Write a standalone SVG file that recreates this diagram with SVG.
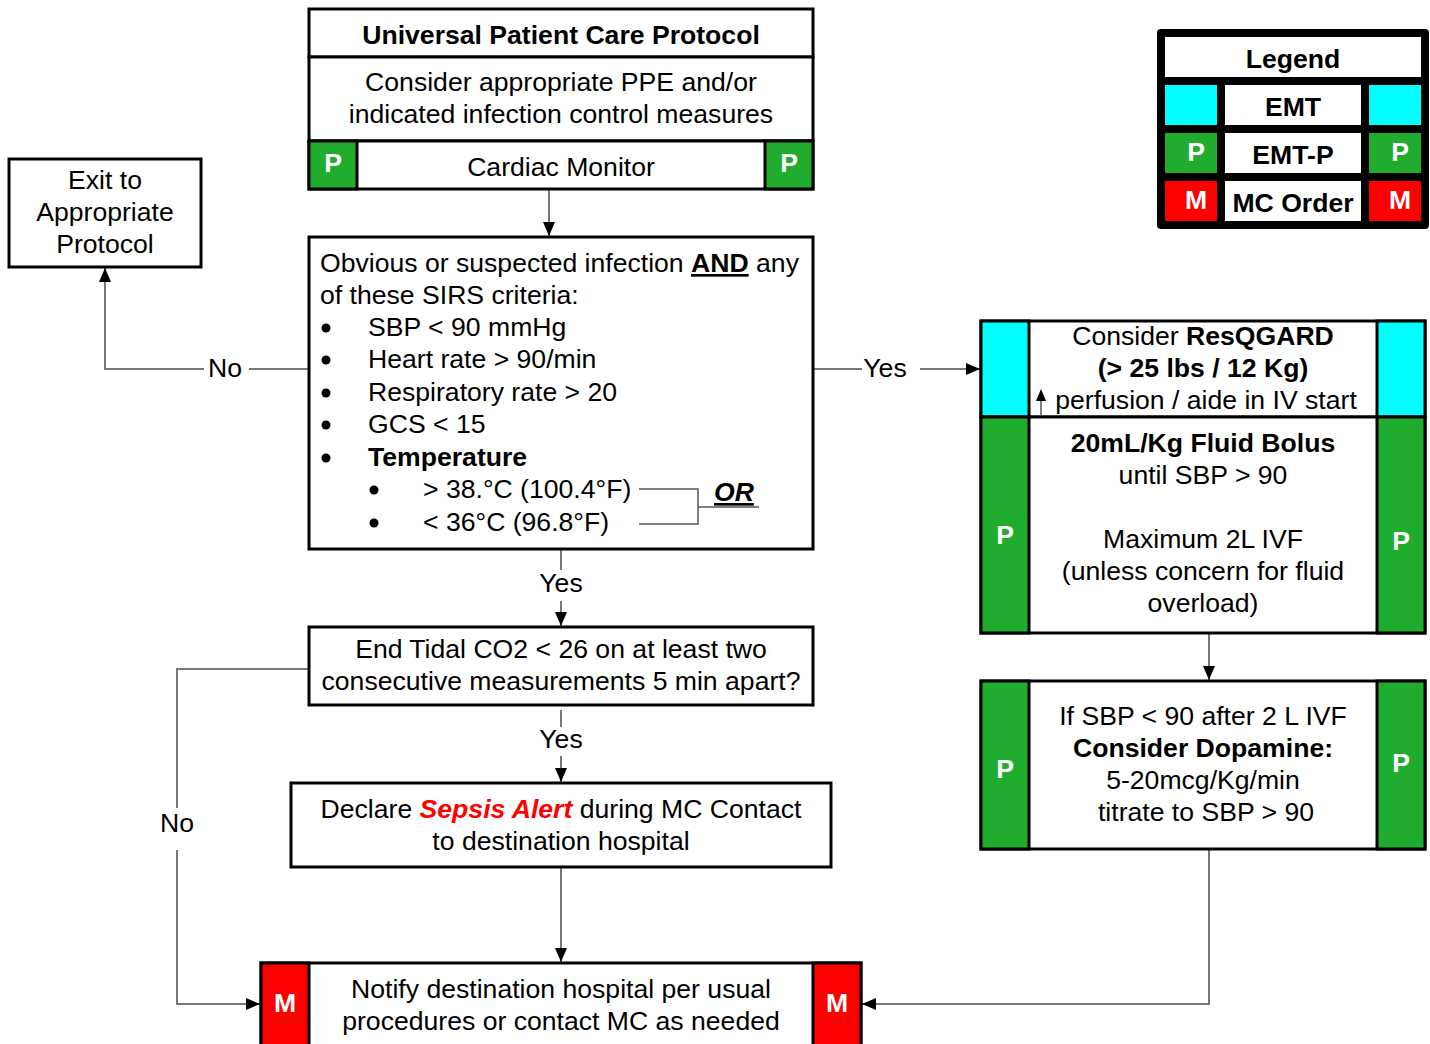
<svg xmlns="http://www.w3.org/2000/svg" width="1430" height="1044" viewBox="0 0 1430 1044">
<defs>
<marker id="ah" markerWidth="14" markerHeight="12" refX="14" refY="6" orient="auto" markerUnits="userSpaceOnUse">
<path d="M0,0 L14,6 L0,12 Z" fill="#000"/>
</marker>
<style>
text{font-family:"Liberation Sans",Arial,sans-serif;font-size:26.6px;fill:#000}
.c{text-anchor:middle}
.b{font-weight:bold}
.w{fill:#fff;font-weight:bold}
.box{fill:#fff;stroke:#000;stroke-width:3}
.g{fill:#1fac2f;stroke:#000;stroke-width:3}
.cy{fill:#00ffff;stroke:#000;stroke-width:3}
.r{fill:#ff0000;stroke:#000;stroke-width:3}
.ln{fill:none;stroke:#777;stroke-width:2}
.ar{fill:none;stroke:#777;stroke-width:2;marker-end:url(#ah)}
.thin{fill:none;stroke:#555;stroke-width:1.5}
</style>
</defs>
<rect width="1430" height="1044" fill="#fff"/>

<g id="connectors">
<line class="ar" x1="549" y1="189" x2="549" y2="236"/>
<polyline class="ln" points="309,369 249,369"/>
<polyline class="ar" points="204,369 105,369 105,268"/>
<line class="ln" x1="813" y1="369" x2="862" y2="369"/>
<line class="ar" x1="920" y1="369" x2="980" y2="369"/>
<line class="ln" x1="561" y1="549" x2="561" y2="570"/>
<line class="ar" x1="561" y1="601" x2="561" y2="626"/>
<line class="ln" x1="561" y1="710" x2="561" y2="727"/>
<line class="ar" x1="561" y1="756" x2="561" y2="782"/>
<polyline class="ln" points="309,669 177,669 177,808"/>
<polyline class="ar" points="177,850 177,1004 260,1004"/>
<line class="ar" x1="561" y1="867" x2="561" y2="962"/>
<line class="ar" x1="1209" y1="633" x2="1209" y2="680"/>
<polyline class="ar" points="1209,849 1209,1004 862,1004"/>
</g>

<g id="universal">
<rect class="box" x="309" y="9" width="504" height="48"/>
<text class="c b" x="561" y="44">Universal Patient Care Protocol</text>
<rect class="box" x="309" y="57" width="504" height="84"/>
<text class="c" x="561" y="91">Consider appropriate PPE and/or</text>
<text class="c" x="561" y="123">indicated infection control measures</text>
<rect class="box" x="309" y="141" width="504" height="48"/>
<rect class="g" x="309" y="141" width="48" height="48"/>
<rect class="g" x="765" y="141" width="48" height="48"/>
<text class="c w" x="333" y="172">P</text>
<text class="c w" x="789" y="172">P</text>
<text class="c" x="561" y="176">Cardiac Monitor</text>
</g>

<g id="exit">
<rect class="box" x="9" y="159" width="192" height="108"/>
<text class="c" x="105" y="189">Exit to</text>
<text class="c" x="105" y="221">Appropriate</text>
<text class="c" x="105" y="253">Protocol</text>
</g>

<g id="sirs">
<rect class="box" x="309" y="237" width="504" height="312"/>
<text x="320" y="272">Obvious or suspected infection <tspan font-weight="bold" text-decoration="underline">AND</tspan> any</text>
<text x="320" y="304">of these SIRS criteria:</text>
<circle cx="326" cy="328" r="4.5"/><text x="368" y="336">SBP &lt; 90 mmHg</text>
<circle cx="326" cy="360" r="4.5"/><text x="368" y="368">Heart rate &gt; 90/min</text>
<circle cx="326" cy="393" r="4.5"/><text x="368" y="401">Respiratory rate &gt; 20</text>
<circle cx="326" cy="425" r="4.5"/><text x="368" y="433">GCS &lt; 15</text>
<circle cx="326" cy="458" r="4.5"/><text class="b" x="368" y="466">Temperature</text>
<circle cx="374" cy="490" r="4.5"/><text x="423" y="498">&gt; 38.°C (100.4°F)</text>
<circle cx="374" cy="523" r="4.5"/><text x="423" y="531">&lt; 36°C (96.8°F)</text>
<polyline class="thin" points="639,489 698,489 698,524 639,524"/>
<line class="thin" x1="698" y1="507" x2="759" y2="507"/>
<text x="714" y="501" font-size="19" font-weight="bold" font-style="italic" text-decoration="underline">OR</text>
</g>

<g id="labels">
<text class="c" x="225" y="377">No</text>
<text class="c" x="885" y="377">Yes</text>
<text class="c" x="561" y="592">Yes</text>
<text class="c" x="561" y="748">Yes</text>
<text class="c" x="177" y="832">No</text>
</g>

<g id="etco2">
<rect class="box" x="309" y="627" width="504" height="78"/>
<text class="c" x="561" y="658">End Tidal CO2 &lt; 26 on at least two</text>
<text class="c" x="561" y="690">consecutive measurements 5 min apart?</text>
</g>

<g id="declare">
<rect class="box" x="291" y="783" width="540" height="84"/>
<text class="c" x="561" y="818">Declare <tspan fill="#ff0000" font-weight="bold" font-style="italic">Sepsis Alert</tspan> during MC Contact</text>
<text class="c" x="561" y="850">to destination hospital</text>
</g>

<g id="notify">
<rect class="box" x="261" y="963" width="600" height="90"/>
<rect class="r" x="261" y="963" width="48" height="90"/>
<rect class="r" x="813" y="963" width="48" height="90"/>
<text class="c w" x="285" y="1012">M</text>
<text class="c w" x="837" y="1012">M</text>
<text class="c" x="561" y="998">Notify destination hospital per usual</text>
<text class="c" x="561" y="1030">procedures or contact MC as needed</text>
</g>

<g id="resqgard">
<rect class="box" x="981" y="321" width="444" height="96"/>
<rect class="cy" x="981" y="321" width="48" height="96"/>
<rect class="cy" x="1377" y="321" width="48" height="96"/>
<text class="c" x="1203" y="345">Consider <tspan font-weight="bold">ResQGARD</tspan></text>
<text class="c b" x="1203" y="377">(&gt; 25 lbs / 12 Kg)</text>
<line x1="1041" y1="415" x2="1041" y2="398" stroke="#555" stroke-width="1.5"/>
<path d="M1036,401 L1041,389 L1046,401 Z" fill="#000"/>
<text class="c" x="1206" y="409">perfusion / aide in IV start</text>
</g>

<g id="fluid">
<rect class="box" x="981" y="417" width="444" height="216"/>
<rect class="g" x="981" y="417" width="48" height="216"/>
<rect class="g" x="1377" y="417" width="48" height="216"/>
<text class="c w" x="1005" y="544">P</text>
<text class="c w" x="1401" y="550">P</text>
<text class="c b" x="1203" y="452">20mL/Kg Fluid Bolus</text>
<text class="c" x="1203" y="484">until SBP &gt; 90</text>
<text class="c" x="1203" y="548">Maximum 2L IVF</text>
<text class="c" x="1203" y="580">(unless concern for fluid</text>
<text class="c" x="1203" y="612">overload)</text>
</g>

<g id="dopamine">
<rect class="box" x="981" y="681" width="444" height="168"/>
<rect class="g" x="981" y="681" width="48" height="168"/>
<rect class="g" x="1377" y="681" width="48" height="168"/>
<text class="c w" x="1005" y="778">P</text>
<text class="c w" x="1401" y="772">P</text>
<text class="c" x="1203" y="725">If SBP &lt; 90 after 2 L IVF</text>
<text class="c b" x="1203" y="757">Consider Dopamine:</text>
<text class="c" x="1203" y="789">5-20mcg/Kg/min</text>
<text class="c" x="1206" y="821">titrate to SBP &gt; 90</text>
</g>

<g id="legend">
<rect x="1157" y="29" width="272" height="200" rx="4" fill="#000"/>
<rect x="1165" y="37" width="256" height="40" fill="#fff"/>
<text class="c b" x="1293" y="68">Legend</text>
<rect x="1165" y="85" width="52" height="40" fill="#00ffff"/>
<rect x="1225" y="85" width="136" height="40" fill="#fff"/>
<rect x="1369" y="85" width="52" height="40" fill="#00ffff"/>
<text class="c b" x="1293" y="116">EMT</text>
<rect x="1165" y="133" width="52" height="40" fill="#1fac2f"/>
<rect x="1225" y="133" width="136" height="40" fill="#fff"/>
<rect x="1369" y="133" width="52" height="40" fill="#1fac2f"/>
<text class="c w" x="1196" y="161">P</text>
<text class="c b" x="1293" y="164">EMT-P</text>
<text class="c w" x="1400" y="161">P</text>
<rect x="1165" y="181" width="52" height="40" fill="#ff0000"/>
<rect x="1225" y="181" width="136" height="40" fill="#fff"/>
<rect x="1369" y="181" width="52" height="40" fill="#ff0000"/>
<text class="c w" x="1196" y="209">M</text>
<text class="c b" x="1293" y="212">MC Order</text>
<text class="c w" x="1400" y="209">M</text>
</g>
</svg>
